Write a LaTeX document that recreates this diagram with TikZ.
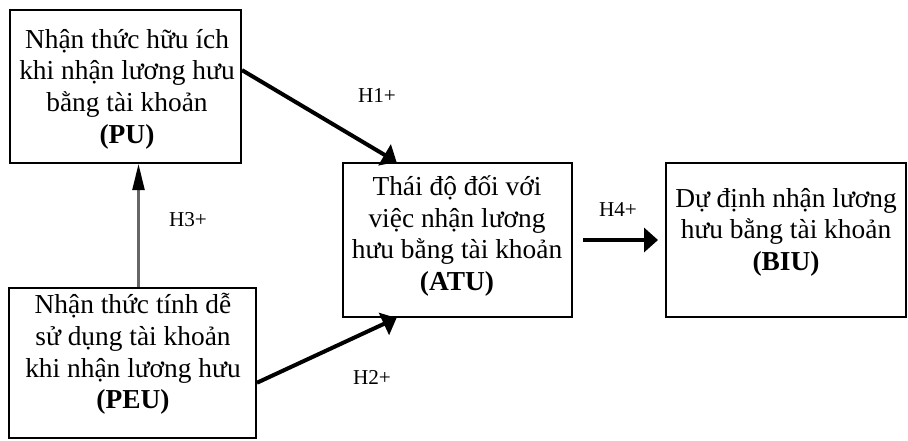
\documentclass[tikz,border=0pt]{standalone}
\usepackage{fontspec}
\setmainfont{Liberation Serif}
\usetikzlibrary{arrows.meta,fit}
\begin{document}
\begin{tikzpicture}[x=0.5pt,y=-0.5pt,font=\fontsize{13.7}{15.8}\selectfont,
		box/.style={draw,line width=1pt,inner sep=0pt},
		txt/.style={align=center,inner sep=0pt},
		hyp/.style={font=\fontsize{10.6}{12}\selectfont,inner sep=0pt},
		link/.style={line width=2pt,-{Triangle[length=7pt,width=12pt]}},
		thin link/.style={line width=1.1pt,black!60,-{Triangle[length=13pt,width=6pt,color=black]}}]
	\useasboundingbox (0,0) rectangle (908,440);
	\foreach \n/\xa/\ya/\xb/\yb in {PU/10/10/241/163, PEU/9/288/256/438, ATU/343/163/572/317, BIU/666/163/906/317}{
		\path (\xa,\ya) coordinate (\n_1) (\xb,\yb) coordinate (\n_2);
		\node[box,fit=(\n_1)(\n_2)] (\n) {};
	}
	\node[txt] (PU_t) at (127,89) {Nhận thức hữu ích\\khi nhận lương hưu\\bằng tài khoản\\\textbf{(PU)}};
	\node[txt] (PEU_t) at (133,354) {Nhận thức tính dễ\\sử dụng tài khoản\\khi nhận lương hưu\\\textbf{(PEU)}};
	\node[txt] (ATU_t) at (457,236) {Thái độ đối với\\việc nhận lương\\hưu bằng tài khoản\\\textbf{(ATU)}};
	\node[txt] (BIU_t) at (786,232) {Dự định nhận lương\\hưu bằng tài khoản\\\textbf{(BIU)}};
	\foreach \h/\p in {H1/{(377,95)}, H2/{(372,377)}, H3/{(188,220)}, H4/{(618,210)}}
		\node[hyp] (\h) at \p {\h+};
	\draw[link] (PU.8) -- (ATU.128);
	\draw[link] (PEU.-9) -- (ATU.-128);
	\draw[link,shorten <=5pt,shorten >=3.5pt] (ATU) -- (BIU);
	\draw[thin link] ([xshift=3pt]PEU.north) -- ([xshift=3pt]PEU.north |- PU.south);
\end{tikzpicture}
\end{document}
